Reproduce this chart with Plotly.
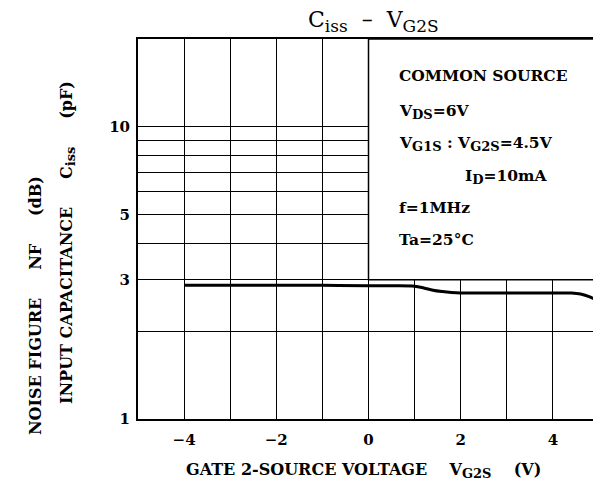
import plotly.graph_objects as go

# data
vg2s = [-4, -3, -2, -1, 0, 0.5, 1.0, 1.2, 1.4, 1.6, 1.8, 2, 3, 4, 4.4, 4.6, 4.8, 5]
ciss = [2.87, 2.87, 2.87, 2.87, 2.86, 2.86, 2.85, 2.81, 2.76, 2.73, 2.71, 2.70,
        2.70, 2.70, 2.70, 2.68, 2.62, 2.52]

x_tickvals = [-5, -4, -3, -2, -1, 0, 1, 2, 3, 4, 5]
x_ticktext = ["", "−4", "", "−2", "", "0", "", "2", "", "4", ""]
y_tickvals = [1, 2, 3, 4, 5, 6, 7, 8, 9, 10]
y_ticktext = ["1", "", "3", "", "5", "", "", "", "", "10"]

FONT = "DejaVu Serif"
OFF = 8  # page body margin

# plot-area pixel frame (page coordinates)
L, R, T, B = 138, 599, 39, 419
W, H = R - L, B - T


def px(x):
    return (x - L) / W


def py(y):
    return (B - y) / H


def sub(s, size):
    return "<sub><span style='font-size:%dpx'>%s</span></sub>" % (size, s)


fig = go.Figure()
fig.add_trace(go.Scatter(x=vg2s, y=ciss, mode="lines",
                         line=dict(color="black", width=3, shape="spline"),
                         showlegend=False, hoverinfo="skip"))

# white condition box in the upper right
fig.add_shape(type="rect", xref="x", yref="y", x0=0, x1=5, y0=3, y1=20,
              fillcolor="white", line=dict(color="black", width=1.5), layer="between")

fig.update_layout(
    width=601 - OFF, height=489 - OFF,
    margin=dict(l=L - OFF, r=601 - R, t=T - OFF, b=489 - B),
    paper_bgcolor="white", plot_bgcolor="white",
    font=dict(family=FONT, color="black", size=15),
    xaxis=dict(range=[-5, 5], tickvals=x_tickvals, ticktext=x_ticktext,
               showgrid=True, gridcolor="black", gridwidth=1,
               showline=True, linecolor="black", linewidth=2, mirror=True,
               zeroline=False, ticks="", ticklabelstandoff=6, automargin=False,
               tickfont=dict(family=FONT, size=15, weight="bold")),
    yaxis=dict(type="log", range=[0, 1.301], tickvals=y_tickvals, ticktext=y_ticktext,
               showgrid=True, gridcolor="black", gridwidth=1,
               showline=True, linecolor="black", linewidth=2, mirror=True,
               zeroline=False, ticks="", ticklabelstandoff=3, automargin=False,
               tickfont=dict(family=FONT, size=15, weight="bold")),
)

ann = []
# title
ann.append(dict(text="C" + sub("iss", 17) + "  –  V" + sub("G2S", 17), xref="paper", yref="paper",
                x=px(373), y=py(21), xanchor="center", yanchor="middle",
                showarrow=False, font=dict(family=FONT, size=22)))
# x axis title
ann.append(dict(text="<b>GATE 2-SOURCE VOLTAGE    V" + sub("G2S", 13) + "    (V)</b>",
                xref="paper", yref="paper",
                x=px(363), y=py(470), xanchor="center", yanchor="middle",
                showarrow=False, font=dict(family=FONT, size=16)))
# y axis titles
ann.append(dict(text="<b>NOISE FIGURE     NF     (dB)</b>", xref="paper", yref="paper",
                x=px(35), y=py(306), textangle=-90,
                xanchor="center", yanchor="middle", showarrow=False,
                font=dict(family=FONT, size=16)))
ann.append(dict(text="<b>INPUT CAPACITANCE     C" + sub("iss", 13) + "     (pF)</b>",
                xref="paper", yref="paper",
                x=px(67), y=py(243), textangle=-90,
                xanchor="center", yanchor="middle", showarrow=False,
                font=dict(family=FONT, size=16)))
# condition texts
cond = [
    ("COMMON SOURCE", 397, 76),
    ("V" + sub("DS", 13) + "=6V", 397, 111),
    ("V" + sub("G1S", 13) + " : V" + sub("G2S", 13) + "=4.5V", 397, 143),
    ("I" + sub("D", 13) + "=10mA", 463, 176),
    ("f=1MHz", 397, 207),
    ("Ta=25°C", 397, 239),
]
for t, x0, y0 in cond:
    ann.append(dict(text="<b>" + t + "</b>", xref="paper", yref="paper",
                    x=px(x0), y=py(y0),
                    xanchor="left", yanchor="middle", showarrow=False,
                    font=dict(family=FONT, size=15.5)))
fig.update_layout(annotations=ann)

fig.write_html("out.html")
